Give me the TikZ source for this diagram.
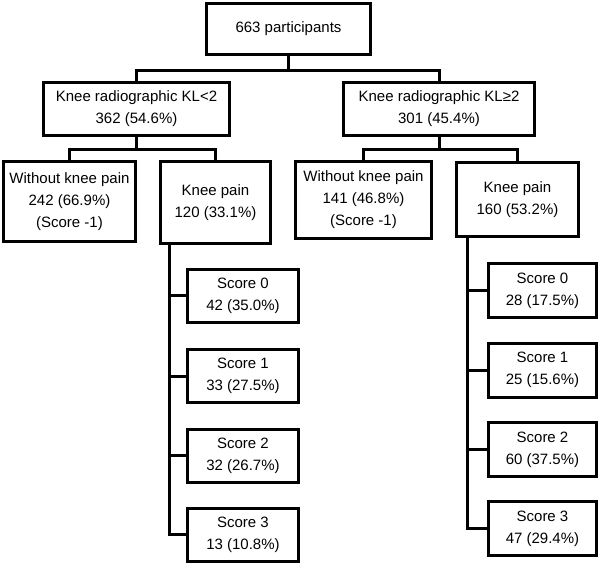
\documentclass[tikz,border=0pt]{standalone}
\usepackage{fontspec}
\setmainfont{Liberation Sans}
\usetikzlibrary{calc}

\tikzset{
	box/.style={draw, line width=3pt, align=center, inner sep=0pt,
		font=\fontsize{15}{22}\selectfont},
	link/.style={line width=3pt, line join=miter},
	scorebox/.style={box, minimum width=111pt, minimum height=53pt}
}

\begin{document}
\begin{tikzpicture}[x=1pt,y=-1pt]
	\useasboundingbox (0,0) rectangle (600,565);

	\node[box, minimum width=164pt, minimum height=51pt] (all) at (288.5,29) {663 participants};

	\node[box, minimum width=186pt, minimum height=53pt] (klA) at (136.5,109) {Knee radiographic KL<2\\362 (54.6\%)};
	\node[box, minimum width=191pt, minimum height=53pt] (klB) at (439,109) {Knee radiographic KL≥2\\301 (45.4\%)};

	\node[box, minimum width=132pt, minimum height=80pt] (nopainA) at (69.5,201.5) {Without knee pain\\242 (66.9\%)\\(Score -1)};
	\node[box, minimum width=110pt, minimum height=82pt] (painA) at (215.5,202.5) {Knee pain\\120 (33.1\%)};
	\node[box, minimum width=136pt, minimum height=77pt] (nopainB) at (363.5,200) {Without knee pain\\141 (46.8\%)\\(Score -1)};
	\node[box, minimum width=122pt, minimum height=74pt] (painB) at (517.5,199.5) {Knee pain\\160 (53.2\%)};

	\node[scorebox] (scA0) at (243,295.5) {Score 0\\42 (35.0\%)};
	\node[scorebox] (scA1) at (243,376) {Score 1\\33 (27.5\%)};
	\node[scorebox] (scA2) at (243,455.5) {Score 2\\32 (26.7\%)};
	\node[scorebox] (scA3) at (243,534.5) {Score 3\\13 (10.8\%)};

	\node[scorebox, minimum width=108pt, minimum height=54pt] (scB0) at (542.5,290.5) {Score 0\\28 (17.5\%)};
	\node[scorebox, minimum width=108pt, minimum height=54pt] (scB1) at (542.5,370) {Score 1\\25 (15.6\%)};
	\node[scorebox, minimum width=108pt, minimum height=54pt] (scB2) at (542.5,449.5) {Score 2\\60 (37.5\%)};
	\node[scorebox, minimum width=108pt, minimum height=54pt] (scB3) at (542.5,528.5) {Score 3\\47 (29.4\%)};

	\coordinate (busAll) at ($(all.south)+(0,14.5)$);
	\draw[link] (klA.north) |- (busAll) -| (klB.north);
	\draw[link] (all.south) -- (busAll);

	\coordinate (busA) at ($(klA.south)+(0,12.5)$);
	\draw[link] (nopainA.north) |- (busA) -| (painA.north);
	\draw[link] (klA.south) -- (busA);

	\coordinate (busB) at ($(klB.south)+(0,12.5)$);
	\draw[link] (nopainB.north) |- (busB) -| (painB.north);
	\draw[link] (klB.south) -- (busB);

	\coordinate (trunkA) at ($(painA.south west)+(10,0)$);
	\draw[link] (trunkA) |- (scA3.west);
	\draw[link] (scA0.west) -- (scA0.west -| trunkA);
	\draw[link] (scA1.west) -- (scA1.west -| trunkA);
	\draw[link] (scA2.west) -- (scA2.west -| trunkA);

	\coordinate (trunkB) at ($(painB.south west)+(12.5,0)$);
	\draw[link] (trunkB) |- (scB3.west);
	\draw[link] (scB0.west) -- (scB0.west -| trunkB);
	\draw[link] (scB1.west) -- (scB1.west -| trunkB);
	\draw[link] (scB2.west) -- (scB2.west -| trunkB);
\end{tikzpicture}
\end{document}
